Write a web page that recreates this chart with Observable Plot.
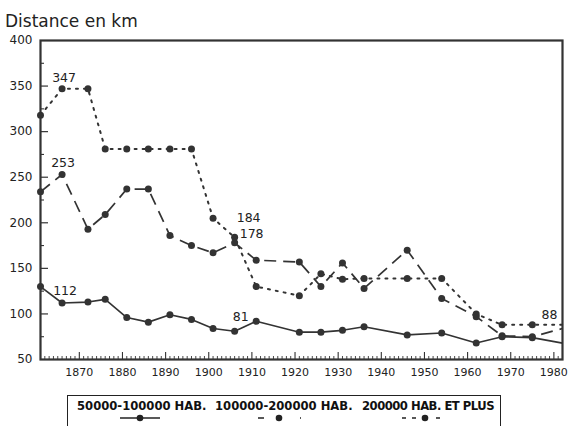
<!DOCTYPE html>
<html>
<head>
<meta charset="utf-8">
<script src="https://cdn.jsdelivr.net/npm/d3@7"></script>
<script src="https://cdn.jsdelivr.net/npm/@observablehq/plot@0.6"></script>
<style>
  html, body { margin: 0; padding: 0; background: #fff; }
  body { width: 569px; height: 426px; position: relative; overflow: hidden; font-family: "DejaVu Sans", sans-serif; }
  #title { position: absolute; left: 5px; top: 11px; font-size: 17px; color: #222; white-space: nowrap; }
  #chart { position: absolute; left: 0; top: 0; }
  #legendbox { position: absolute; left: 67px; top: 395px; width: 432px; height: 45px; border: 1.5px solid #222; border-bottom: none; }
  .lt { position: absolute; top: 399px; font-family: "DejaVu Sans", sans-serif; font-weight: bold; font-size: 11.6px; color: #111; white-space: nowrap; }
  #legsvg { position: absolute; left: 0; top: 409px; }
</style>
</head>
<body>
<div id="title">Distance en km</div>
<div id="chart"></div>
<div id="legendbox"></div>
<svg id="legsvg" width="569" height="18"></svg>
<script>
// Census years (x categories)
const years = [1861,1866,1872,1876,1881,1886,1891,1896,1901,1906,1911,1921,1926,1931,1936,1946,1954,1962,1968,1975,1982];
// Series values (distance in km)
const small  = [130,112,113,116, 96, 91, 99, 94, 84, 81, 92, 80, 80, 82, 86, 77, 79, 68, 75, 74, 68];   // 50000-100000 HAB.
const medium = [234,253,193,209,237,237,186,175,167,178,159,157,130,156,128,170,117, 97, 76, 75, 84];   // 100000-200000 HAB.
const large  = [318,347,347,281,281,281,281,281,205,184,130,120,144,138,139,139,139,100, 88, 88, 88];   // 200000 HAB. ET PLUS
// Legend labels
const seriesNames = ["50000-100000 HAB.", "100000-200000 HAB.", "200000 HAB. ET PLUS"];
// Tick values
const yTicks = [50,100,150,200,250,300,350,400];
const xTicks = [1870,1880,1890,1900,1910,1920,1930,1940,1950,1960,1970,1980];
// Annotated values
const annoSeries = ["large","medium","small","large","medium","small","large"];
const annoYears  = [1866,1866,1866,1906,1906,1906,1982];
const annoText   = ["347","253","112","184","178","81","88"];

const seriesKeys = ["small","medium","large"];
const seriesVals = {small, medium, large};
const styles = {
  small:  {dash: null,   width: 1.6},
  medium: {dash: "12,7", width: 1.7},
  large:  {dash: "2,6",  width: 2}
};

const rows = [];
for (const k of seriesKeys) years.forEach((yr, i) => rows.push({series: k, year: yr, value: seriesVals[k][i]}));
const annos = annoText.map((t, i) => ({series: annoSeries[i], year: annoYears[i], text: t,
  value: seriesVals[annoSeries[i]][years.indexOf(annoYears[i])]}));
const annoOffsets = {"347":[2,-11], "253":[1,-11], "112":[3,-12], "184":[14,-19], "178":[17,-9], "81":[6,-14], "88":[-13,-10]};

const minorX = d3.range(1862, 1982).filter(d => d % 10 !== 0);
const minorY = yTicks.slice(0, -1).map(d => d + 25);
const ink = "#333";

const marks = [
  Plot.axisY({ticks: yTicks, tickSize: 0, tickPadding: 8, fontSize: 12, label: null, fill: "#222"}),
  Plot.axisY({ticks: yTicks.slice(1, -1), tickSize: -8, text: null, label: null, stroke: ink, strokeWidth: 1.2}),
  Plot.axisY({ticks: minorY, tickSize: -4, text: null, label: null, stroke: ink, strokeWidth: 1.1}),
  Plot.axisX({ticks: xTicks, tickSize: 0, tickPadding: 9, fontSize: 11, tickFormat: d => String(d), label: null, fill: "#222"}),
  Plot.axisX({ticks: xTicks, tickSize: -7, text: null, label: null, stroke: ink, strokeWidth: 1.1}),
  Plot.axisX({ticks: minorX, tickSize: -3, text: null, label: null, stroke: ink, strokeWidth: 0.9}),
];
for (const k of seriesKeys) {
  const d = rows.filter(r => r.series === k);
  marks.push(Plot.line(d, {x: "year", y: "value", stroke: ink, strokeWidth: styles[k].width,
    strokeDasharray: styles[k].dash, strokeLinecap: k === "large" ? "round" : "butt"}));
  marks.push(Plot.dot(d.filter(r => r.year < 1982), {x: "year", y: "value", r: 3.5, fill: ink, stroke: "none"}));
}
for (const a of annos) {
  const [dx, dy] = annoOffsets[a.text];
  marks.push(Plot.text([a], {x: "year", y: "value", text: "text", dx, dy, fontSize: 12.5, fill: "#222"}));
}
marks.push(Plot.frame({stroke: ink, strokeWidth: 2.2}));

const chart = Plot.plot({
  width: 569,
  height: 385,
  marginLeft: 40,
  marginRight: 7,
  marginTop: 40,
  marginBottom: 26,
  style: {fontFamily: "DejaVu Sans, sans-serif", background: "transparent", color: "#222"},
  x: {domain: [1861, 1982], axis: null},
  y: {domain: [50, 400], axis: null},
  marks
});
document.getElementById("chart").appendChild(chart);

// Legend texts
const legendLeft = [77, 215, 362];
seriesNames.forEach((n, i) => {
  const s = document.createElement("div");
  s.className = "lt";
  s.style.left = legendLeft[i] + "px";
  if (i === 2) s.style.letterSpacing = "-0.5px";
  s.textContent = n;
  document.body.appendChild(s);
});
// Legend samples
const svg = d3.select("#legsvg");
const samples = [
  {k: "small",  x0: 120, x1: 160, cx: 140, dash: null},
  {k: "medium", x0: 258, x1: 301, cx: 279, dash: "6,36,3,40"},
  {k: "large",  x0: 402, x1: 442, cx: 425, dash: "4,6,4,20,4,40"}
];
for (const s of samples) {
  svg.append("line").attr("x1", s.x0).attr("x2", s.x1).attr("y1", 9).attr("y2", 9)
    .attr("stroke", "#222").attr("stroke-width", 1.5).attr("stroke-dasharray", s.dash);
  svg.append("circle").attr("cx", s.cx).attr("cy", 9).attr("r", 3.3).attr("fill", "#222");
}
</script>
</body>
</html>
